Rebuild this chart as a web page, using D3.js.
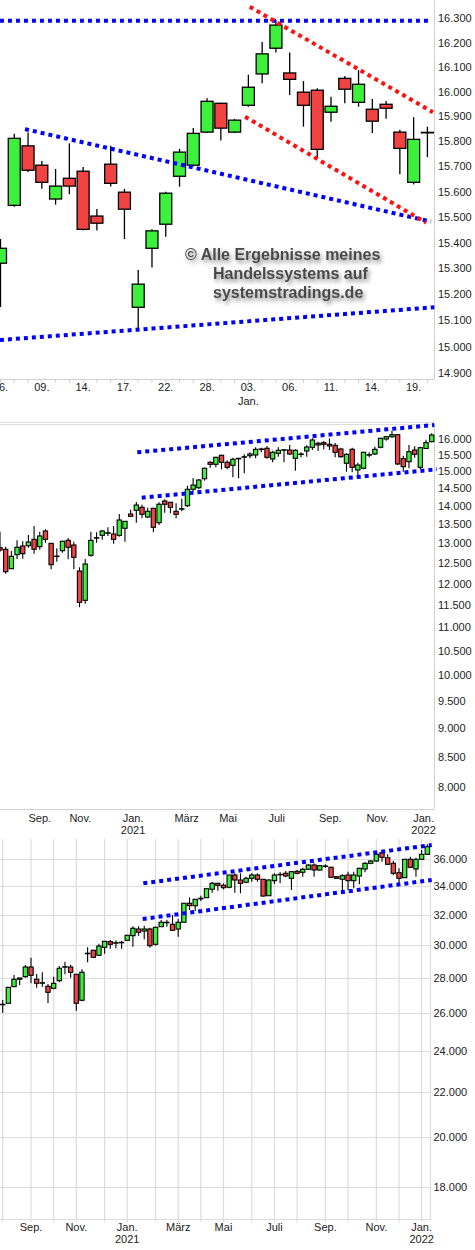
<!DOCTYPE html>
<html><head><meta charset="utf-8">
<script src="https://cdn.jsdelivr.net/npm/d3@7"></script>
<style>html,body{margin:0;padding:0;background:#fff;} svg{display:block;font-family:"Liberation Sans",Arial,sans-serif;}</style>
</head><body><svg id="c" width="475" height="1250"></svg>
<script>
// ---------------- DATA: top panel (daily) ----------------
const topDates = ["2021-12-06","2021-12-07","2021-12-08","2021-12-09","2021-12-10","2021-12-13","2021-12-14","2021-12-15","2021-12-16","2021-12-17","2021-12-20","2021-12-21","2021-12-22","2021-12-23","2021-12-27","2021-12-28","2021-12-29","2021-12-30","2022-01-03","2022-01-04","2022-01-05","2022-01-06","2022-01-07","2022-01-10","2022-01-11","2022-01-12","2022-01-13","2022-01-14","2022-01-17","2022-01-18","2022-01-19","2022-01-20"];
const topOpen  = [15320,15546,15782,15705,15571,15653,15681,15504,15709,15598,15150,15378,15472,15661,15705,15837,15953,15837,15945,16072,16177,16076,15998,16006,15917,16054,15957,15929,15949,15837,15637,15835];
const topHigh  = [15414,15830,15835,15722,15690,15792,15698,15532,15782,15611,15294,15452,15600,15770,15854,15973,15955,15890,16069,16202,16293,16159,16043,16014,15979,16064,16088,15970,15962,15846,15897,15859];
const topLow   = [15151,15541,15678,15612,15549,15590,15447,15447,15620,15414,15057,15303,15423,15620,15700,15833,15803,15833,15939,16034,16159,15987,15859,15733,15879,15953,15939,15833,15891,15669,15629,15737];
const topClose = [15378,15812,15685,15637,15622,15622,15452,15476,15633,15531,15239,15446,15594,15757,15832,15961,15853,15885,16018,16154,16272,16050,15945,15768,15941,16010,16030,15881,15933,15772,15808,15836];
const topTicks = [16300,16200,16100,16000,15900,15800,15700,15600,15500,15400,15300,15200,15100,15000,14900];
const topTickDates = ["2021-12-06","2021-12-09","2021-12-14","2021-12-17","2021-12-22","2021-12-28","2022-01-03","2022-01-06","2022-01-11","2022-01-14","2022-01-19"];
// trend lines: [candle index start, value start, candle index end, value end]
const topBlueLines = [[-0.04,16290,31.1,16290],[1.78,15849,31.26,15482],[-0.04,15025,31.5,15150]];
const topRedLines  = [[18.1,16348,31.4,15917],[17.76,15899,30.9,15478]];
const watermark = ["© Alle Ergebnisse meines","Handelssystems auf","systemstradings.de"];

// ---------------- DATA: middle panel (weekly) ----------------
const midStart = "2020-07-20";
const midOpen  = [12888,12847,12360,12710,12931,12939,13104,12914,13323,13000,12669,12811,13078,12957,12304,11606,12694,13140,13209,13270,13243,13209,13395,13781,13884,13966,13699,13939,13545,14142,14106,13856,13920,14011,14476,14522,14784,15275,15214,15489,15275,15184,15390,15440,15477,15499,15680,15707,15376,15551,15655,15653,15397,15525,15622,15738,15864,15883,15832,15800,15685,15245,15675,15043,15094,15505,15530,15738,16000,16073,16138,15386,15293,15653,15124,15700,15914];
const midHigh  = [13304,12914,12803,13078,13053,13217,13456,13304,13368,13000,12872,13068,13139,13043,12395,12602,13304,13288,13350,13422,13456,13781,13590,13901,14115,14040,13955,13945,14106,14190,14115,14078,14208,14581,14805,14776,15112,15306,15446,15509,15336,15416,15410,15520,15582,15738,15725,15779,15632,15738,15665,15811,15675,15582,15800,16022,15914,15936,16022,15873,15725,15551,15725,15263,15601,15582,15757,16042,16096,16267,16161,15477,15811,15770,15757,15973,16183];
const midLow   = [12785,12237,12355,12602,12609,12888,12735,12837,13016,12346,12533,12760,12595,12346,11447,11528,12659,13016,13094,13192,12990,13173,13043,13715,13545,13664,13672,13288,13483,13818,13800,13664,13856,13975,14418,14476,14726,15112,15124,15064,15064,14826,14797,14944,15397,15397,15582,15386,15275,15446,15275,15499,15022,15427,15446,15653,15622,15675,15653,15427,15416,14992,14974,14797,15064,15427,15499,15707,15946,16042,15193,14992,15094,15414,15057,15700,15895];
const midClose = [12829,12287,12669,12898,12735,13035,12847,13192,13104,12459,12675,13053,12898,12643,11560,12475,13078,13147,13323,13278,13104,13618,13582,13718,14030,13773,13856,13422,14051,14051,13966,13773,13928,14476,14600,14746,15094,15214,15427,15275,15124,15367,15397,15446,15530,15675,15685,15427,15582,15644,15662,15530,15644,15530,15747,15968,15811,15832,15779,15582,15446,15520,15124,15193,15582,15509,15675,16022,16073,16138,15224,15142,15601,15520,15725,15885,16128];
const midTicks = [16000,15500,15000,14500,14000,13500,13000,12500,12000,11500,11000,10500,10000,9500,9000,8500,8000];
const midTickDates = ["2020-09-07","2020-10-27","2020-12-31","2021-03-07","2021-04-27","2021-06-26","2021-08-31","2021-10-28","2021-12-24"];
const midTickLabels = ["Sep.","Nov.","Jan.","März","Mai","Juli","Sep.","Nov.","Jan."];
const midTickYears  = ["","","2021","","","","","","2022"];
const midBlueLines = [[24.17,15582,76.46,16452],[24.95,14235,76.93,15064]];

// ---------------- DATA: bottom panel (weekly) ----------------
const botStart = "2020-07-27";
const botOpen  = [26480,26542,27490,28001,28080,28660,27925,27715,27513,27396,27843,28670,28660,28220,26710,29490,29694,29379,29881,30240,30165,30190,30327,30625,31061,30930,31061,30072,31214,31500,31371,31061,31508,32800,32632,33140,33189,33785,34218,34073,33930,34823,34456,34291,34581,34823,34509,33329,34406,34865,34949,34581,35097,35024,35245,35568,35193,35485,35396,34700,34509,34823,34406,34751,35268,35697,35870,36507,36122,35697,34992,34625,36000,35268,36000,36383];
const botHigh  = [26727,27454,28181,28001,28782,29228,28239,28343,27647,28080,28721,28983,28800,28230,28520,29881,29700,30109,30270,30346,30327,30300,30660,31241,31241,31281,31148,31214,31659,31680,31997,31727,32810,33216,33080,33329,33840,34333,34230,34218,34830,34949,34949,34700,34949,34949,34520,34509,34949,35024,35118,35118,35193,35367,35622,35697,35568,35622,35442,34751,34874,35067,35067,35367,35773,35947,36537,36584,36383,35893,35320,36010,36199,36122,36716,37163];
const botLow   = [26020,26542,27490,27572,28019,27688,27430,27490,26542,27338,27747,28220,28019,26130,26650,28946,29250,29370,29481,29795,29820,29795,30320,29918,30625,30392,29856,29990,31200,31214,30970,30557,31500,32335,32267,32960,33180,33541,33686,33785,33858,33541,33499,34218,34333,34333,33260,33320,34164,34218,34654,33735,34874,34700,35193,34700,35143,35367,34640,34550,33613,33735,33858,34145,35024,35622,35820,35820,35568,34823,34023,34600,35320,34700,35947,36329];
const botClose = [26486,27454,27925,27925,28660,28160,27688,27723,27165,27688,28581,28679,28343,26542,28343,29507,29253,29962,30262,30072,30174,30200,30651,31108,30845,31061,29983,31174,31508,31508,30978,31508,32800,32632,33077,33146,33828,34218,34073,33900,34823,34456,34218,34581,34823,34509,33307,34456,34823,34874,34751,35067,34949,35245,35568,35193,35517,35493,34654,34581,34773,34406,34823,35320,35697,35870,36383,36152,35622,34949,34581,36000,35396,36000,36383,36973];
const botTicks = [36000,34000,32000,30000,28000,26000,24000,22000,20000,18000];
const botBlueLines = [[24.84,34218,75.78,37105],[24.73,31727,75.78,34456]];
const monthNames = ["Jan.","Feb.","März","April","Mai","Juni","Juli","Aug.","Sep.","Okt.","Nov.","Dez."];

// ---------------- DRAWING ----------------
const svg = d3.select("#c");
const GREEN="#3cf03c", RED="#f24343", GRID="#dcdcdc", AXIS="#d0d0d0", TXT="#222";
const fmt = d3.formatLocale({decimal:",", thousands:".", grouping:[3], currency:["","€"]}).format(",.0f");
const parse = d3.timeParse("%Y-%m-%d");

const defs = svg.append("defs");
const f = defs.append("filter").attr("id","sh").attr("x","-10%").attr("y","-40%").attr("width","130%").attr("height","200%");
f.append("feGaussianBlur").attr("in","SourceAlpha").attr("stdDeviation",2.2);
f.append("feOffset").attr("dx",2).attr("dy",3).attr("result","b");
f.append("feFlood").attr("flood-color","#000").attr("flood-opacity",0.45);
f.append("feComposite").attr("in2","b").attr("operator","in");
const fm = f.append("feMerge"); fm.append("feMergeNode"); fm.append("feMergeNode").attr("in","SourceGraphic");

function drawCandles(g, x, y, O, H, L, C, bw, sw){
  const idx = d3.range(O.length);
  g.append("g").selectAll("line").data(idx).join("line")
    .attr("x1",i=>x(i)).attr("x2",i=>x(i))
    .attr("y1",i=>y(H[i])).attr("y2",i=>y(L[i]))
    .attr("stroke","#000").attr("stroke-width",sw);
  g.append("g").selectAll("rect").data(idx).join("rect")
    .attr("x",i=>x(i)-bw/2).attr("width",bw)
    .attr("y",i=>y(Math.max(O[i],C[i])))
    .attr("height",i=>Math.max(0.5, y(Math.min(O[i],C[i]))-y(Math.max(O[i],C[i]))))
    .attr("fill",i=>C[i]>=O[i]?GREEN:RED)
    .attr("stroke","#000").attr("stroke-width",sw);
}
function drawDotted(g, x, y, segs, color){
  g.append("g").selectAll("line").data(segs).join("line")
    .attr("x1",s=>x(s[0])).attr("y1",s=>y(s[1]))
    .attr("x2",s=>x(s[2])).attr("y2",s=>y(s[3]))
    .attr("stroke",color).attr("stroke-width",4).attr("stroke-dasharray","4 4");
}
function yLabels(g, y, ticks, xpos){
  g.append("g").selectAll("text").data(ticks).join("text")
    .attr("x",xpos).attr("y",v=>y(v)+4).attr("font-size",11).attr("fill",TXT).text(v=>fmt(v));
}

// ----- TOP -----
const gT = svg.append("g");
const xT = d3.scaleLinear().domain([0, topDates.length-1]).range([0.5, 427.4]);
const yT = d3.scaleLog().domain([14900,16300]).range([373,18.3]);
gT.append("line").attr("x1",0).attr("x2",434).attr("y1",379.5).attr("y2",379.5).attr("stroke",AXIS);
gT.append("line").attr("x1",434.5).attr("x2",434.5).attr("y1",0).attr("y2",379.5).attr("stroke",AXIS);
gT.append("g").selectAll("line").data(d3.range(topDates.length)).join("line")
  .attr("x1",i=>xT(i)).attr("x2",i=>xT(i)).attr("y1",380).attr("y2",383).attr("stroke",AXIS);
drawCandles(gT, xT, yT, topOpen, topHigh, topLow, topClose, 12, 1.3);
drawDotted(gT, xT, yT, topBlueLines, "#0000ff");
drawDotted(gT, xT, yT, topRedLines, "#ff1010");
yLabels(gT, yT, topTicks, 438);
gT.append("g").selectAll("text").data(topTickDates).join("text")
  .attr("x",d=>xT(topDates.indexOf(d))).attr("y",390.7).attr("text-anchor","middle")
  .attr("font-size",11).attr("fill",TXT)
  .text(d=>d3.timeFormat("%d.")(parse(d)));
gT.append("g").selectAll("text").data(topTickDates.filter(d=>parse(d).getDate()<=3 && parse(d).getMonth()===0)).join("text")
  .attr("x",d=>xT(topDates.indexOf(d))).attr("y",404.7).attr("text-anchor","middle")
  .attr("font-size",11).attr("fill",TXT)
  .text(d=>monthNames[parse(d).getMonth()]);
const wm = gT.append("g").attr("filter","url(#sh)").attr("font-size",16).attr("font-weight","bold").attr("fill","#4a4a4a");
const wmX = [185,213,213], wmY = [260,279,298];
wm.selectAll("text").data(watermark).join("text").attr("x",(d,i)=>wmX[i]).attr("y",(d,i)=>wmY[i]).text(d=>d);

// ----- MIDDLE -----
const gM = svg.append("g");
const xM = d3.scaleLinear().domain([0, midOpen.length-1]).range([0, 431.7]);
const xMt = d3.scaleTime().domain([parse(midStart), d3.timeMonday.offset(parse(midStart), midOpen.length-1)]).range([0, 431.7]);
const yM = d3.scaleLog().domain([8000,16000]).range([787.3,439]);
gM.append("line").attr("x1",0).attr("x2",434).attr("y1",422.5).attr("y2",422.5).attr("stroke","#dcdcdc");
gM.append("line").attr("x1",0).attr("x2",434).attr("y1",424.5).attr("y2",424.5).attr("stroke","#dcdcdc");
gM.append("line").attr("x1",0).attr("x2",434).attr("y1",809.5).attr("y2",809.5).attr("stroke",AXIS);
gM.append("line").attr("x1",434.5).attr("x2",434.5).attr("y1",424).attr("y2",809.5).attr("stroke",AXIS);
drawCandles(gM, xM, yM, midOpen, midHigh, midLow, midClose, 4.3, 1.1);
drawDotted(gM, xM, yM, midBlueLines, "#0000ff");
yLabels(gM, yM, midTicks, 438);
gM.append("g").selectAll("text").data(midTickDates).join("text")
  .attr("x",d=>xMt(parse(d))).attr("y",821.7).attr("text-anchor","middle")
  .attr("font-size",11).attr("fill",TXT).text((d,i)=>midTickLabels[i]);
gM.append("g").selectAll("text").data(midTickDates).join("text")
  .attr("x",d=>xMt(parse(d))).attr("y",834).attr("text-anchor","middle")
  .attr("font-size",11).attr("fill",TXT).text((d,i)=>midTickYears[i]);

// ----- BOTTOM -----
const gB = svg.append("g");
const xB = d3.scaleLinear().domain([0, botOpen.length-1]).range([2.7, 427.3]);
const yB = d3.scaleLog().domain([18000,36000]).range([1186.7,859.3]);
const botWeeks = d3.range(botOpen.length).map(i=>d3.timeMonday.offset(parse(botStart), i));
const monthIdx = d3.range(botWeeks.length).filter(i=>{
  const d = botWeeks[i], e = d3.timeDay.offset(d, 6);
  return d.getDate()===1 || e.getMonth()!==d.getMonth();
});
const firstOfMonth = i => { const d = botWeeks[i]; return d.getDate()===1 ? d : new Date(d3.timeDay.offset(d,6).getFullYear(), d3.timeDay.offset(d,6).getMonth(), 1); };
gB.append("g").selectAll("line").data(botTicks).join("line")
  .attr("x1",0).attr("x2",431).attr("y1",v=>Math.round(yB(v))+0.5).attr("y2",v=>Math.round(yB(v))+0.5)
  .attr("stroke",GRID).attr("stroke-width",1.2);
gB.append("g").selectAll("line").data(monthIdx).join("line")
  .attr("x1",i=>xB(i)).attr("x2",i=>xB(i)).attr("y1",839).attr("y2",1222)
  .attr("stroke",GRID).attr("stroke-width",1.2);
gB.append("line").attr("x1",430.5).attr("x2",430.5).attr("y1",839).attr("y2",1219).attr("stroke",GRID).attr("stroke-width",1.2);
gB.append("line").attr("x1",0).attr("x2",431).attr("y1",1219.5).attr("y2",1219.5).attr("stroke",GRID);
drawCandles(gB, xB, yB, botOpen, botHigh, botLow, botClose, 4.3, 1.1);
drawDotted(gB, xB, yB, botBlueLines, "#0000ff");
yLabels(gB, yB, botTicks, 433.5);
const labIdx = monthIdx.filter(i=>firstOfMonth(i).getMonth()%2===0 && firstOfMonth(i).getMonth()!==6 || firstOfMonth(i).getMonth()===6);
const labIdx2 = monthIdx.filter(i=>[8,10,0,2,4,6].includes(firstOfMonth(i).getMonth()));
gB.append("g").selectAll("text").data(labIdx2).join("text")
  .attr("x",i=>xB(i)).attr("y",1230.7).attr("text-anchor","middle")
  .attr("font-size",11).attr("fill",TXT).text(i=>monthNames[firstOfMonth(i).getMonth()]);
gB.append("g").selectAll("text").data(labIdx2.filter(i=>firstOfMonth(i).getMonth()===0)).join("text")
  .attr("x",i=>xB(i)).attr("y",1243.3).attr("text-anchor","middle")
  .attr("font-size",11).attr("fill",TXT).text(i=>firstOfMonth(i).getFullYear());
</script></body></html>
